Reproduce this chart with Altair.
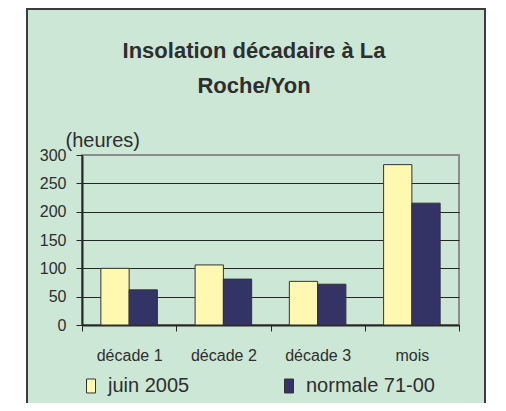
import altair as alt
import pandas as pd

# ---- data ----
categories = ["décade 1", "décade 2", "décade 3", "mois"]
series = ["juin 2005", "normale 71-00"]
juin_2005 = [100, 106, 77, 283]
normale_71_00 = [62, 81, 72, 215]
y_ticks = [0, 50, 100, 150, 200, 250, 300]
title_lines = ["Insolation décadaire à La", "Roche/Yon"]
y_unit = "(heures)"

rows = []
for c, a, b in zip(categories, juin_2005, normale_71_00):
    rows.append({"cat": c, "serie": series[0], "val": a})
    rows.append({"cat": c, "serie": series[1], "val": b})
df = pd.DataFrame(rows)

GREEN = "#CCE7D6"
TEXT = "#2e2e2e"
DARK = "#262626"
FONT = "Liberation Sans"

bars = alt.Chart(df).mark_bar(stroke="#333333", strokeWidth=1).encode(
    x=alt.X(
        "cat:N", sort=categories,
        scale=alt.Scale(paddingInner=0, paddingOuter=0),
        axis=alt.Axis(title=None, labelAngle=0, tickBand="extent", tickSize=6,
                      tickColor=DARK, domainColor=DARK, domainWidth=2,
                      labelFontSize=16, labelColor=TEXT, labelFont=FONT,
                      labelBaseline="alphabetic", labelPadding=29, grid=False),
    ),
    xOffset=alt.XOffset("serie:N", sort=series,
                        scale=alt.Scale(paddingInner=0, paddingOuter=0.667)),
    y=alt.Y(
        "val:Q",
        scale=alt.Scale(domain=[0, 300], nice=False),
        axis=alt.Axis(values=y_ticks, title=y_unit, titleAngle=0, titleAlign="left",
                      titleBaseline="alphabetic", titleX=-17, titleY=-9,
                      titleFontSize=20, titleFontWeight="normal", titleFont=FONT,
                      titleColor=TEXT, tickSize=6, tickColor=DARK,
                      domainColor=DARK, domainWidth=2,
                      labelFontSize=16, labelColor=TEXT, labelFont=FONT, labelPadding=10,
                      grid=True, gridWidth=1,
                      gridColor={"condition": {"test": "datum.value === 300", "value": "#8c8c8c"},
                                 "value": DARK}),
    ),
    color=alt.Color(
        "serie:N", sort=series,
        scale=alt.Scale(domain=series, range=["#FFF8B0", "#333366"]),
        legend=alt.Legend(title=None, orient="none", legendX=-1, legendY=221,
                          direction="horizontal", columns=2, columnPadding=89,
                          symbolType="M-0.6,-0.93H0.6V0.93H-0.6Z", symbolSize=225,
                          symbolStrokeColor="#333333", symbolStrokeWidth=1,
                          labelFontSize=20, labelFont=FONT, labelColor=TEXT,
                          labelOffset=7, padding=0),
    ),
)

one = pd.DataFrame({"k": [0]})
white_left = alt.Chart(one).mark_rect(fill="white").encode(
    x=alt.value(-82), x2=alt.value(-56), y=alt.value(-160), y2=alt.value(260))
white_right = alt.Chart(one).mark_rect(fill="white").encode(
    x=alt.value(404), x2=alt.value(430), y=alt.value(-160), y2=alt.value(260))
border = alt.Chart(one).mark_rect(fillOpacity=0, stroke="#3c3c3c", strokeWidth=2).encode(
    x=alt.value(-55), x2=alt.value(403), y=alt.value(-146), y2=alt.value(300))

t1 = alt.Chart(one).mark_text(text=title_lines[0], font=FONT, fontSize=22, fontWeight="bold",
                              color=TEXT, align="center", baseline="alphabetic").encode(
    x=alt.value(172), y=alt.value(-97))
t2 = alt.Chart(one).mark_text(text=title_lines[1], font=FONT, fontSize=22, fontWeight="bold",
                              color=TEXT, align="center", baseline="alphabetic").encode(
    x=alt.value(172), y=alt.value(-62))

chart = alt.layer(bars, white_left, white_right, border, t1, t2).properties(
    width=377, height=170,
    padding={"left": 74, "top": 147, "right": 39, "bottom": 78},
    autosize="none",
    background=GREEN,
).configure_view(stroke="#8c8c8c", strokeWidth=2)

chart.save("out.html", embed_options={"renderer": "svg", "actions": False})
